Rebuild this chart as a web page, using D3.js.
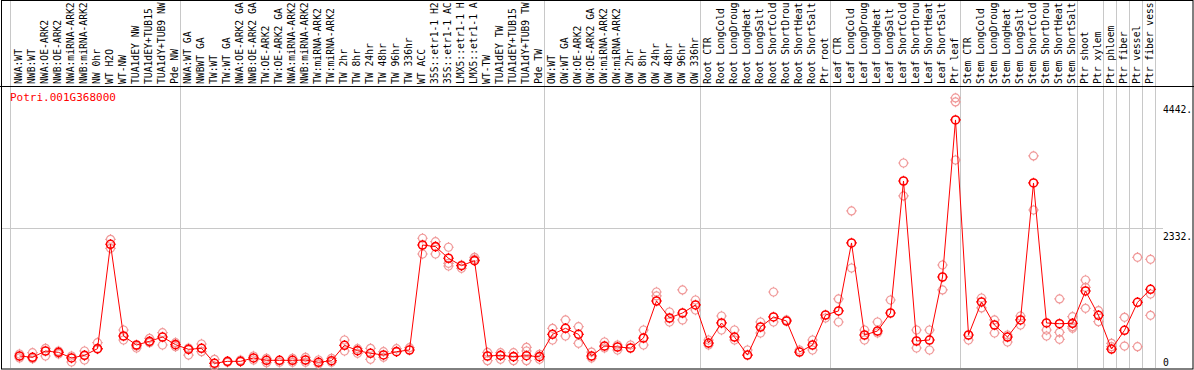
<!DOCTYPE html>
<html>
<head>
<meta charset="utf-8">
<script src="https://cdn.jsdelivr.net/npm/d3@7"></script>
<style>
  body { margin: 0; background: #fff; }
  svg { display: block; }
  text { font-family: "DejaVu Sans Mono", monospace; }
</style>
</head>
<body>
<svg id="chart" width="1194" height="370"></svg>
<script>
// gene shown in the panel
var geneId = "Potri.001G368000";

// sample names, one per column
var samples = [
  "NWA:WT", "NWB:WT", "NWA:OE-ARK2", "NWB:OE-ARK2", "NWA:miRNA-ARK2", "NWB:miRNA-ARK2",
  "NW 0hr", "WT H2O", "WT-NW", "TUA1dEY NW", "TUA1dEY+TUB15", "TUA1dY+TUB9 NW", "Pde NW",
  "NWA:WT GA", "NWBWT GA", "TW:WT", "TW:WT GA", "NWA:OE-ARK2 GA", "NWB:OE-ARK2 GA",
  "TW:OE-ARK2", "TW:OE-ARK2 GA", "NWA:miRNA-ARK2", "NWB:miRNA-ARK2", "TW:miRNA-ARK2",
  "TW:miRNA-ARK2", "TW 2hr", "TW 8hr", "TW 24hr", "TW 48hr", "TW 96hr", "TW 336hr",
  "WT ACC", "35S::etr1-1 H2", "35S::etr1-1 AC", "LMX5::etr1-1 H", "LMX5::etr1-1 A",
  "WT-TW", "TUA1dEY TW", "TUA1dEY+TUB15", "TUA1dY+TUB9 TW", "Pde TW",
  "OW:WT", "OW:WT GA", "OW:OE-ARK2", "OW:OE-ARK2 GA", "OW:miRNA-ARK2", "OW:miRNA-ARK2",
  "OW 2hr", "OW 8hr", "OW 24hr", "OW 48hr", "OW 96hr", "OW 336hr",
  "Root CTR", "Root LongCold", "Root LongDroug", "Root LongHeat", "Root LongSalt",
  "Root ShortCold", "Root ShortDrou", "Root ShortHeat", "Root ShortSalt", "Ptr root",
  "Leaf CTR", "Leaf LongCold", "Leaf LongDroug", "Leaf LongHeat", "Leaf LongSalt",
  "Leaf ShortCold", "Leaf ShortDrou", "Leaf ShortHeat", "Leaf ShortSalt", "Ptr leaf",
  "Stem CTR", "Stem LongCold", "Stem LongDroug", "Stem LongHeat", "Stem LongSalt",
  "Stem ShortCold", "Stem ShortDrou", "Stem ShortHeat", "Stem ShortSalt",
  "Ptr shoot", "Ptr xylem", "Ptr phloem", "Ptr fiber", "Ptr vessel", "Ptr fiber vess"
];

// how many columns sit in each block between the grey separators
var groupSizes = [13, 28, 12, 10, 10, 9, 2, 1, 1, 1, 1];

// mean expression per sample
var means = [
  200, 178, 283, 261, 167, 211, 322, 2061, 533, 383, 444, 516, 389,
  311, 328, 78, 111, 111, 167, 128, 128, 128, 133, 95, 122, 378, 289, 245,
  217, 272, 300, 2049, 2021, 1828, 1704, 1788, 200, 211, 189, 205, 189,
  561, 661, 561, 200, 366, 350, 333, 500, 1116, 833, 916, 1050,
  416, 750, 516, 216, 683, 850, 783, 266, 383, 883,
  950, 2083, 550, 616, 916, 3115, 450, 466, 1516, 4132,
  550, 1100, 716, 516, 800, 3082, 750, 738, 744,
  1283, 878, 316, 628, 1094, 1311
];

// individual replicate values per sample
var replicates = [
  [233, 167], [255, 155], [328, 200], [283, 233], [200, 100], [283, 133], [422, 316],
  [2144, 1994], [633, 466], [366, 333], [494, 422], [588, 383], [422, 355],
  [333, 216], [400, 272], [145, 33], [95], [133], [200, 133], [161, 89], [95],
  [161, 95], [178, 95], [133, 66], [161, 95], [466, 283], [322, 245], [328, 145],
  [272, 178], [322], [339], [2161, 1899], [2105, 1899], [2011, 1744, 1699],
  [1716, 1661], [1844, 1811], [261, 122], [255, 145], [255, 122], [344, 283, 122],
  [228, 145], [661, 466], [800, 533], [688, 411], [266, 166], [433, 333], [383, 300],
  [383], [633, 383], [1266, 1200], [933, 766], [1300, 800], [1133, 966],
  [466, 383], [866, 633], [633, 466], [300], [766, 583], [1266, 766], [800], [300],
  [466, 300], [833], [1150, 766], [2616, 1666], [633, 466], [766, 583], [1133],
  [3415, 2866], [633, 333], [633, 300], [1716, 1300], [4498, 4432, 3465],
  [466], [1166, 1000], [800, 583], [550, 433], [866, 716], [3532, 2632], [633, 533],
  [1150, 594, 478], [855, 688, 661], [1466, 1344, 994], [955, 771], [411, 355],
  [844, 366], [1844, 355], [1811, 1233, 878]
];

// value labels printed on the right
var yTicks = [4442, 2332, 0];

var W = 1194, H = 370, headerH = 86;
var svg = d3.select("#chart");

var x = d3.scaleLinear().domain([0, samples.length - 1]).range([19.5, 1150.5]);
var y = d3.scaleLinear().domain([0, 4664]).range([368, 88]);

// frame
svg.append("rect")
  .attr("x", 1.5).attr("y", 0.5)
  .attr("width", W - 2.5).attr("height", H - 1.5)
  .attr("fill", "none").attr("stroke", "#000");

// horizontal grid at the middle value
svg.append("line")
  .attr("x1", 2).attr("x2", 1163)
  .attr("y1", Math.round(y(2332)) + 0.5).attr("y2", Math.round(y(2332)) + 0.5)
  .attr("stroke", "#c8c8c8");

// group separators
var seps = [x(0) - 9.5];
var acc = 0;
groupSizes.forEach(function (n) {
  acc += n;
  seps.push(x(acc - 1) + 4.5);
});
svg.selectAll(".sep")
  .data(seps).enter()
  .append("line")
  .attr("class", "sep")
  .attr("x1", function (d) { return Math.round(d) + 0.5; })
  .attr("x2", function (d) { return Math.round(d) + 0.5; })
  .attr("y1", 1).attr("y2", H - 2)
  .attr("stroke", "#c8c8c8");

// header line under the sample names
svg.append("line")
  .attr("x1", 0).attr("x2", W)
  .attr("y1", headerH + 0.5).attr("y2", headerH + 0.5)
  .attr("stroke", "#000");

// rotated sample names
var header = svg.append("g");
header.append("clipPath").attr("id", "hclip")
  .append("rect").attr("x", 0).attr("y", 1).attr("width", W).attr("height", headerH - 1);
header.append("g").attr("clip-path", "url(#hclip)")
  .selectAll("text")
  .data(samples).enter()
  .append("text")
  .attr("transform", function (d, i) {
    return "translate(" + (x(i) + 2) + "," + (headerH - 2) + ") rotate(-90)";
  })
  .attr("font-size", "9.7px")
  .attr("fill", "#000")
  .text(function (d) { return d; });

// right-hand value labels
svg.selectAll(".ylab")
  .data(yTicks).enter()
  .append("text")
  .attr("class", "ylab")
  .attr("x", 1163)
  .attr("y", function (d) { return Math.min(y(d) + 12, 366); })
  .attr("font-size", "9.7px")
  .attr("fill", "#000")
  .text(function (d) { return d === 0 ? "0" : d + "."; });

// gene id
svg.append("text")
  .attr("x", 10).attr("y", 101)
  .attr("font-size", "11px")
  .attr("fill", "#ff0000")
  .text(geneId);

// circle marker with four small ticks
function marker(g, color, sw) {
  g.append("circle").attr("r", 4)
    .attr("fill", "none").attr("stroke", color).attr("stroke-width", sw);
  g.append("path")
    .attr("d", "M0,-5.3V-4M0,4V5.3M-5.3,0H-4M4,0H5.3")
    .attr("stroke", color).attr("stroke-width", 1.2);
}

// replicates
var repPts = [];
replicates.forEach(function (r, i) {
  r.forEach(function (v) { repPts.push({ i: i, v: v }); });
});
svg.selectAll(".rep")
  .data(repPts).enter()
  .append("g")
  .attr("class", "rep")
  .attr("transform", function (d) { return "translate(" + x(d.i) + "," + y(d.v) + ")"; })
  .each(function () { marker(d3.select(this), "#f09a9a", 1.2); });

// mean line
svg.append("path")
  .datum(means)
  .attr("fill", "none")
  .attr("stroke", "#ff0000")
  .attr("stroke-width", 1)
  .attr("d", d3.line()
    .x(function (d, i) { return x(i); })
    .y(function (d) { return y(d); }));

// mean markers
svg.selectAll(".mean")
  .data(means).enter()
  .append("g")
  .attr("class", "mean")
  .attr("transform", function (d, i) { return "translate(" + x(i) + "," + y(d) + ")"; })
  .each(function () { marker(d3.select(this), "#ff0000", 1.6); });
</script>
</body>
</html>
